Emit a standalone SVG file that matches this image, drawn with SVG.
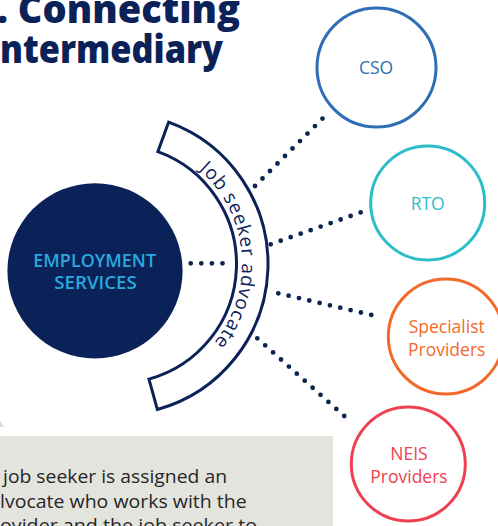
<svg xmlns="http://www.w3.org/2000/svg" width="498" height="526" viewBox="0 0 498 526">
<style>
.title{font-family:"Open Sans","Liberation Sans",sans-serif;font-weight:800;font-size:38px;fill:#0b2259}
.body{font-family:"Open Sans","Liberation Sans",sans-serif;font-size:17.5px;fill:#262626}
.lbl{font-family:"Open Sans","Liberation Sans",sans-serif;font-size:17.5px;text-anchor:middle}
.ring{fill:#fff;stroke-width:3}
.dots{fill:none;stroke:#0b2550;stroke-width:4.8;stroke-linecap:round;stroke-dasharray:0 10.6}
</style>
<defs>
<path id="arcText" d="M199.0,169.66 A125,125 0 0 1 205.39,352.39"/>
</defs>
<rect width="498" height="526" fill="#fff"/>
<g id="title">
<text class="title" x="-3" y="22.7" textLength="243" lengthAdjust="spacingAndGlyphs">. Connecting</text>
<text class="title" x="0" y="63.3" textLength="223" lengthAdjust="spacingAndGlyphs">ntermediary</text>
</g>
<polygon points="0,421 4.5,427 0,427" fill="#dcdcd8"/>
<g id="note">
<rect x="-2" y="436" width="335" height="92" fill="#e4e4df"/>
<text class="body" x="3" y="483.3" textLength="224" lengthAdjust="spacingAndGlyphs">job seeker  is assigned  an</text>
<text class="body" x="0" y="507.7" textLength="246.7" lengthAdjust="spacingAndGlyphs">lvocate who works with the</text>
<text class="body" x="0" y="532.1" textLength="257" lengthAdjust="spacingAndGlyphs">ovider and  the job seeker  to</text>
</g>
<g id="connectors">
<line class="dots" x1="190.7" y1="263.3" x2="233" y2="263.3"/>
<line class="dots" x1="255" y1="186" x2="323.3" y2="117.7"/>
<line class="dots" x1="270.7" y1="244.3" x2="362.7" y2="211.7"/>
<line class="dots" x1="278.3" y1="293.3" x2="371.7" y2="315"/>
<line class="dots" x1="257.3" y1="338.3" x2="351.7" y2="422.7"/>
</g>
<g id="employment">
<circle cx="95" cy="270.8" r="87.6" fill="#0b2259"/>
<text class="lbl" x="94.7" y="267.3" font-size="19.5" font-weight="600" fill="#2aa8df" textLength="122.7" lengthAdjust="spacingAndGlyphs">EMPLOYMENT</text>
<text class="lbl" x="95.5" y="289.3" font-size="19.5" font-weight="600" fill="#2aa8df" textLength="82.4" lengthAdjust="spacingAndGlyphs">SERVICES</text>
</g>
<g id="advocate">
<path d="M168.65,122.11 A151,151 0 0 1 157.35,409.51 L148.94,379.15 A119.5,119.5 0 0 0 157.87,151.71 Z" fill="#fff" stroke="#0b2259" stroke-width="3" stroke-linejoin="miter"/>
<text font-family="'Open Sans','Liberation Sans',sans-serif" font-size="19" fill="#0b2259"><textPath href="#arcText" textLength="192" lengthAdjust="spacing">Job seeker advocate</textPath></text>
</g>
<g id="cso">
<circle class="ring" cx="376.5" cy="67.5" r="59.5" stroke="#2f6eb5"/>
<text class="lbl" x="376" y="74" fill="#2f6eb5">CSO</text>
</g>
<g id="rto">
<circle class="ring" cx="427.7" cy="203" r="57" stroke="#2bbdc9"/>
<text class="lbl" x="427.7" y="210" fill="#2bbdc9">RTO</text>
</g>
<g id="specialist">
<circle class="ring" cx="445.8" cy="336.5" r="57.5" stroke="#f26a2a"/>
<text class="lbl" x="446.7" y="333.3" fill="#f26a2a">Specialist</text>
<text class="lbl" x="446.7" y="356" fill="#f26a2a">Providers</text>
</g>
<g id="neis">
<circle class="ring" cx="408.3" cy="464" r="57" stroke="#ee4150"/>
<text class="lbl" x="409" y="460" fill="#ee4150">NEIS</text>
<text class="lbl" x="409" y="483.3" fill="#ee4150">Providers</text>
</g>
</svg>
